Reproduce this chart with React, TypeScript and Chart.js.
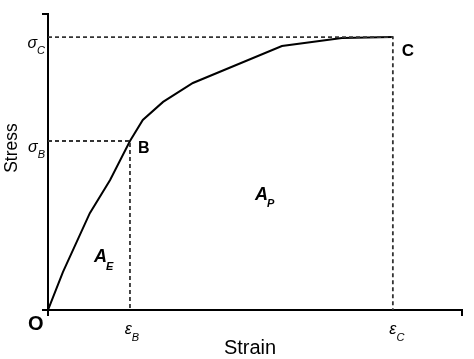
import React, { useEffect, useRef } from "react";
import { Chart, registerables } from "chart.js";

Chart.register(...registerables);

// Curve (arbitrary units, 0..100 on both axes)
const strain = [0, 3.6, 10.1, 15.0, 19.8, 22.9, 27.8, 35.0, 56.5, 71.0, 83.3];
const stress = [0, 12.8, 32.7, 43.9, 57.1, 64.2, 70.3, 76.7, 89.2, 91.9, 92.2];

// Key points
const epsB = 19.8;
const sigB = 57.1;
const epsC = 83.3;
const sigC = 92.2;

const axisMin = 0;
const axisMax = 100;

const SANS = '"Liberation Sans", Arial, sans-serif';

function drawSub(
  ctx: CanvasRenderingContext2D,
  main: string,
  sub: string,
  x: number,
  y: number,
  mainFont: string,
  subFont: string,
  subDx: number,
  subDy: number,
  align: "left" | "right" | "center"
) {
  ctx.font = mainFont;
  const wMain = ctx.measureText(main).width;
  ctx.font = subFont;
  const wSub = ctx.measureText(sub).width;
  const total = wMain + subDx + wSub;
  let x0 = x;
  if (align === "right") x0 = x - total;
  if (align === "center") x0 = x - total / 2;
  ctx.textAlign = "left";
  ctx.textBaseline = "alphabetic";
  ctx.font = mainFont;
  ctx.fillText(main, x0, y);
  ctx.font = subFont;
  ctx.fillText(sub, x0 + wMain + subDx, y + subDy);
}

const labelsPlugin = {
  id: "labels",
  afterDatasetsDraw(chart: any) {
    const ctx: CanvasRenderingContext2D = chart.ctx;
    const xs = chart.scales.x;
    const ys = chart.scales.y;
    const left = chart.chartArea.left;
    const bottom = chart.chartArea.bottom;
    ctx.save();
    ctx.fillStyle = "#000";

    // sigma labels on y axis
    const greekFont = `italic 16px ${SANS}`;
    const greekSub = `italic 11px ${SANS}`;
    drawSub(ctx, "σ", "C", left - 3, ys.getPixelForValue(sigC) + 11, greekFont, greekSub, 0, 6, "right");
    drawSub(ctx, "σ", "B", left - 3, ys.getPixelForValue(sigB) + 11, greekFont, greekSub, 0, 6, "right");

    // epsilon labels on x axis
    drawSub(ctx, "ε", "B", xs.getPixelForValue(epsB) + 2, bottom + 24, greekFont, greekSub, 0, 7, "center");
    drawSub(ctx, "ε", "C", xs.getPixelForValue(epsC) + 4, bottom + 24, greekFont, greekSub, 0, 7, "center");

    // point letters
    ctx.textAlign = "left";
    ctx.textBaseline = "alphabetic";
    ctx.font = `bold 16px ${SANS}`;
    ctx.fillText("B", xs.getPixelForValue(epsB) + 8, ys.getPixelForValue(sigB) + 12);
    ctx.font = `bold 17px ${SANS}`;
    ctx.fillText("C", xs.getPixelForValue(epsC) + 9, ys.getPixelForValue(sigC) + 19);
    ctx.font = `bold 20px ${SANS}`;
    ctx.fillText("O", left - 20, bottom + 20);

    // area labels
    const aFont = `italic bold 18px ${SANS}`;
    const aSub = `italic bold 11px ${SANS}`;
    drawSub(ctx, "A", "E", xs.getPixelForValue(11.1), ys.getPixelForValue(16.2), aFont, aSub, -1, 8, "left");
    drawSub(ctx, "A", "P", xs.getPixelForValue(50.0), ys.getPixelForValue(37.2), aFont, aSub, -1, 7, "left");

    // axis titles
    ctx.textAlign = "center";
    ctx.textBaseline = "alphabetic";
    ctx.font = `20px ${SANS}`;
    ctx.fillText("Strain", (xs.left + xs.right) / 2 - 5, bottom + 44);
    ctx.font = `17.5px ${SANS}`;
    ctx.save();
    ctx.translate(17, (ys.top + ys.bottom) / 2 - 14);
    ctx.rotate(-Math.PI / 2);
    ctx.fillText("Stress", 0, 0);
    ctx.restore();

    ctx.restore();
  },
};

export default function App() {
  const ref = useRef<HTMLCanvasElement | null>(null);
  useEffect(() => {
    if (!ref.current) return;
    const curve = strain.map((x, i) => ({ x, y: stress[i] }));
    const guideB = [
      { x: axisMin, y: sigB },
      { x: epsB, y: sigB },
      { x: epsB, y: axisMin },
    ];
    const guideC = [
      { x: axisMin, y: sigC },
      { x: epsC, y: sigC },
      { x: epsC, y: axisMin },
    ];
    const dashed = {
      borderColor: "#333",
      borderWidth: 1.8,
      borderDash: [4, 3],
      pointRadius: 0,
      showLine: true,
      fill: false,
      tension: 0,
    };
    const axisCommon = {
      type: "linear" as const,
      min: axisMin,
      max: axisMax,
      afterBuildTicks: (s: any) => {
        s.ticks = [{ value: axisMin }, { value: axisMax }];
      },
      ticks: { display: false },
      grid: {
        display: true,
        drawOnChartArea: false,
        drawTicks: true,
        tickLength: 6,
        color: "#000",
        lineWidth: 2,
      },
      border: { display: true, color: "#000", width: 2 },
    };
    const chart = new Chart(ref.current, {
      type: "scatter",
      data: {
        datasets: [
          { ...dashed, data: guideB },
          { ...dashed, data: guideC },
          {
            data: curve,
            borderColor: "#000",
            borderWidth: 2,
            pointRadius: 0,
            showLine: true,
            fill: false,
            tension: 0,
          },
        ],
      },
      options: {
        animation: false,
        responsive: false,
        maintainAspectRatio: false,
        layout: { padding: { left: 42, right: 12, top: 14, bottom: 43 } },
        plugins: {
          legend: { display: false },
          tooltip: { enabled: false },
          title: { display: false },
        },
        scales: {
          x: {
            ...axisCommon,
            afterFit: (s: any) => {
              s.height = 6;
            },
          },
          y: {
            ...axisCommon,
            afterFit: (s: any) => {
              s.width = 6;
            },
          },
        },
      },
      plugins: [labelsPlugin],
    });
    return () => chart.destroy();
  }, []);
  return (
    <div style={{ position: "fixed", left: 0, top: 0, width: 474, height: 359, background: "#fff" }}>
      <canvas ref={ref} width={474} height={359} />
    </div>
  );
}
